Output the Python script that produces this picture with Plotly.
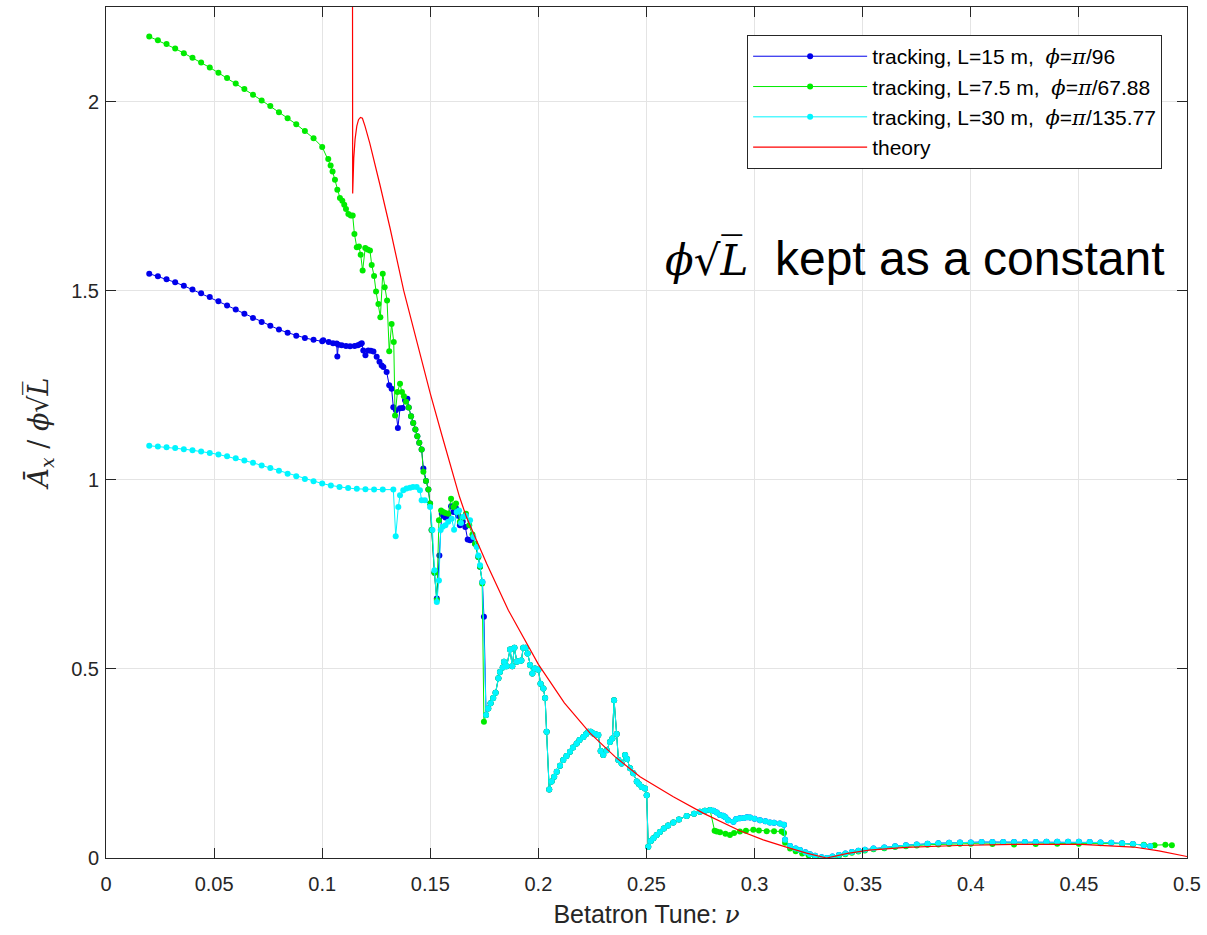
import plotly.graph_objects as go

# ---------------- data ----------------
# Blue: tracking, L=15 m
blue_x = [0.020, 0.024, 0.028, 0.032, 0.036, 0.040, 0.044, 0.048, 0.052, 0.056, 0.060, 0.064, 0.068,
          0.072, 0.076, 0.080, 0.084, 0.088, 0.092, 0.096, 0.100, 0.1005, 0.103, 0.105, 0.1067, 0.107,
          0.1075, 0.109, 0.111, 0.1129, 0.115, 0.1165, 0.1175, 0.1183, 0.119, 0.120, 0.1213, 0.1225,
          0.1237, 0.1252, 0.1265, 0.1275, 0.1283, 0.1298, 0.131, 0.1321, 0.1329, 0.1341, 0.135, 0.136,
          0.1372, 0.1383, 0.1394, 0.140, 0.1411, 0.1421, 0.1431, 0.144, 0.1449, 0.146, 0.1468, 0.148,
          0.1491, 0.1499, 0.1506, 0.1519, 0.153, 0.1542, 0.1553, 0.156, 0.157, 0.1583, 0.1596, 0.1607,
          0.1619, 0.1628, 0.1637, 0.165, 0.1662, 0.1673, 0.1684, 0.1695, 0.1707, 0.1722, 0.173, 0.1741,
          0.1748]
blue_y = [1.545, 1.538, 1.530, 1.522, 1.513, 1.503, 1.493, 1.483, 1.472, 1.461, 1.450, 1.439, 1.428,
          1.417, 1.407, 1.397, 1.389, 1.381, 1.375, 1.370, 1.366, 1.369, 1.364, 1.361, 1.360, 1.326,
          1.357, 1.356, 1.354, 1.353, 1.354, 1.356, 1.358, 1.361, 1.342, 1.329, 1.342, 1.341,
          1.339, 1.325, 1.312, 1.302, 1.298, 1.285, 1.250, 1.241, 1.192, 1.184, 1.137, 1.189,
          1.190, 1.210, 1.214, 1.191, 1.168, 1.150, 1.133, 1.115, 1.098, 1.080, 1.030, 0.997,
          0.974, 0.937, 0.867, 0.754, 0.686, 0.800, 0.910, 0.905, 0.900, 0.905, 0.930, 0.915,
          0.925, 0.905, 0.880, 0.890, 0.875, 0.842, 0.840, 0.845, 0.831, 0.796, 0.770, 0.730,
          0.638]

# Green: tracking, L=7.5 m
green_x = [0.020, 0.024, 0.028, 0.032, 0.036, 0.040, 0.044, 0.048, 0.052, 0.056, 0.060, 0.064, 0.068,
           0.072, 0.076, 0.080, 0.084, 0.088, 0.092, 0.096, 0.100, 0.1028, 0.1039, 0.1048, 0.1059,
           0.107, 0.1082, 0.1093, 0.1102, 0.111, 0.1121, 0.1132, 0.1141, 0.1149, 0.116, 0.117, 0.1178,
           0.1187, 0.1199, 0.121, 0.1221, 0.1229, 0.124, 0.1249, 0.126, 0.1269, 0.128, 0.1289, 0.130,
           0.131, 0.1321, 0.1331, 0.1337, 0.1348, 0.136, 0.1369, 0.1378, 0.1388, 0.140, 0.1411, 0.1421,
           0.1431, 0.144, 0.1449, 0.146, 0.1468, 0.148, 0.1491, 0.1499, 0.1506, 0.1519, 0.153, 0.154,
           0.155, 0.156, 0.157, 0.1583, 0.1596, 0.1607, 0.1619, 0.1628, 0.1637, 0.165, 0.1665, 0.168,
           0.1695, 0.1707, 0.1722, 0.173, 0.174, 0.1748]
green_y = [2.172, 2.162, 2.152, 2.140, 2.128, 2.116, 2.103, 2.090, 2.076, 2.062, 2.048, 2.033, 2.018,
           2.003, 1.988, 1.972, 1.956, 1.940, 1.922, 1.903, 1.880, 1.848, 1.831, 1.815, 1.793,
           1.767, 1.745, 1.738, 1.727, 1.716, 1.703, 1.699, 1.699, 1.650, 1.615, 1.617, 1.595,
           1.553, 1.613, 1.609, 1.606, 1.568, 1.539, 1.498, 1.465, 1.430, 1.545, 1.509, 1.474,
           1.340, 1.412, 1.364, 1.170, 1.232, 1.254, 1.232, 1.221, 1.206, 1.191, 1.168, 1.150,
           1.133, 1.115, 1.098, 1.080, 1.021, 0.997, 0.974, 0.937, 0.867, 0.754, 0.682, 0.893,
           0.919, 0.915, 0.912, 0.910, 0.950, 0.928, 0.937, 0.915, 0.889, 0.900, 0.910, 0.880,
           0.855, 0.831, 0.796, 0.770, 0.726, 0.360]

# Cyan: tracking, L=30 m
cyan_x = [0.020, 0.024, 0.028, 0.032, 0.036, 0.040, 0.044, 0.048, 0.052, 0.056, 0.060, 0.064, 0.068,
          0.072, 0.076, 0.080, 0.084, 0.088, 0.092, 0.096, 0.100, 0.104, 0.108, 0.112, 0.116, 0.120,
          0.124, 0.128, 0.1329, 0.134, 0.1352, 0.136, 0.1375, 0.139, 0.1406, 0.142, 0.1437, 0.1452,
          0.146, 0.1475, 0.1499, 0.151, 0.1519, 0.153, 0.154, 0.1548, 0.1557, 0.157, 0.1583, 0.1599,
          0.161, 0.1622, 0.1633, 0.1642, 0.1653, 0.1665, 0.1684, 0.1699, 0.1715, 0.1722, 0.173, 0.1741]
cyan_y = [1.090, 1.088, 1.086, 1.084, 1.081, 1.078, 1.075, 1.071, 1.067, 1.062, 1.057, 1.051, 1.045,
          1.038, 1.031, 1.024, 1.016, 1.009, 1.002, 0.996, 0.990, 0.985, 0.981, 0.978, 0.976, 0.975,
          0.974, 0.974, 0.974, 0.851, 0.928, 0.959, 0.972, 0.977, 0.979, 0.981, 0.981, 0.972,
          0.946, 0.946, 0.928, 0.867, 0.761, 0.677, 0.734, 0.867, 0.876, 0.880, 0.889, 0.897,
          0.868, 0.915, 0.919, 0.886, 0.902, 0.905, 0.893, 0.849, 0.822, 0.800, 0.774, 0.730]

# Segment shared by all three tracking runs (nu = 0.176 ... 0.28)
shared_x = [0.1758, 0.1768, 0.1779, 0.1791, 0.1802, 0.1815, 0.1822, 0.1835, 0.1841, 0.1853, 0.1869,
            0.1879, 0.1889, 0.190, 0.1912, 0.1921, 0.193, 0.1941, 0.195, 0.1961, 0.1972, 0.1984, 0.200,
            0.201, 0.2023, 0.2031, 0.2038, 0.205, 0.2061, 0.2073, 0.2085, 0.210, 0.2115, 0.213, 0.2146,
            0.216, 0.2177, 0.219, 0.2208, 0.222, 0.2231, 0.2242, 0.2254, 0.2265, 0.2277, 0.2288, 0.230,
            0.2316, 0.2331, 0.2342, 0.235, 0.2362, 0.237, 0.2385, 0.2401, 0.241, 0.2424, 0.2439, 0.2455,
            0.2466, 0.2478, 0.2493, 0.2501, 0.2508, 0.252, 0.2532, 0.2547, 0.2562, 0.258, 0.260, 0.2624,
            0.265, 0.2686, 0.272, 0.2747, 0.277, 0.2794]
shared_y = [0.378, 0.395, 0.409, 0.423, 0.437, 0.475, 0.492, 0.504, 0.519, 0.507, 0.551,
            0.507, 0.556, 0.519, 0.521, 0.522, 0.556, 0.556, 0.541, 0.510, 0.488, 0.501, 0.498,
            0.461, 0.448, 0.423, 0.334, 0.181, 0.202, 0.215, 0.228, 0.244, 0.259, 0.270, 0.281,
            0.292, 0.303, 0.312, 0.320, 0.327, 0.334, 0.334, 0.329, 0.327, 0.325, 0.283, 0.272,
            0.285, 0.307, 0.316, 0.417, 0.328, 0.259, 0.250, 0.272, 0.262, 0.237, 0.224, 0.202,
            0.195, 0.188, 0.184, 0.166, 0.030, 0.045, 0.052, 0.061, 0.069, 0.078, 0.086, 0.094,
            0.102, 0.111, 0.117, 0.122, 0.125, 0.127]

# Upper branch (blue & cyan), nu = 0.28 ... 0.314
upper_x = [0.281, 0.2825, 0.284, 0.2855, 0.2865, 0.2878, 0.2902, 0.2915, 0.2932, 0.295, 0.2965, 0.2979,
           0.300, 0.3025, 0.305, 0.3071, 0.309, 0.3117, 0.3136]
upper_y = [0.125, 0.120, 0.114, 0.112, 0.108, 0.100, 0.096, 0.103, 0.105, 0.106, 0.108, 0.107,
           0.104, 0.100, 0.097, 0.094, 0.093, 0.091, 0.088]

# Lower branch (green), nu = 0.28 ... 0.314
lower_x = [0.2815, 0.2825, 0.284, 0.2865, 0.2886, 0.2905, 0.2932, 0.296, 0.2994, 0.302, 0.3056, 0.309,
           0.3125, 0.3136]
lower_y = [0.072, 0.070, 0.068, 0.064, 0.061, 0.066, 0.070, 0.072, 0.075, 0.073, 0.071, 0.071,
           0.070, 0.066]

# Tails (nu = 0.314 ... 0.49)
tail_bc_x = [0.3141, 0.3164, 0.319, 0.321, 0.3235, 0.3256, 0.328, 0.331, 0.3335, 0.336, 0.339, 0.342,
             0.345, 0.348, 0.351, 0.355, 0.360, 0.365, 0.370, 0.375, 0.380, 0.385, 0.390, 0.395, 0.400,
             0.405, 0.410, 0.415, 0.420, 0.425, 0.430, 0.435, 0.440, 0.445, 0.450, 0.455, 0.460, 0.465,
             0.470, 0.475, 0.480, 0.483]
tail_bc_y = [0.048, 0.032, 0.025, 0.021, 0.015, 0.010, 0.006, 0.002, 0.000, 0.004, 0.008, 0.012,
             0.016, 0.019, 0.022, 0.025, 0.028, 0.031, 0.034, 0.036, 0.038, 0.039, 0.040, 0.041, 0.041,
             0.042, 0.042, 0.042, 0.042, 0.042, 0.042, 0.043, 0.043, 0.043, 0.043, 0.042, 0.041, 0.040,
             0.039, 0.037, 0.034, 0.031]
tail_g_x = [0.3141, 0.3164, 0.319, 0.322, 0.325, 0.328, 0.331, 0.3335, 0.336, 0.339, 0.342, 0.345,
            0.348, 0.351, 0.355, 0.360, 0.365, 0.370, 0.375, 0.380, 0.385, 0.390, 0.395, 0.400, 0.410,
            0.420, 0.430, 0.440, 0.450, 0.460, 0.470, 0.475, 0.480, 0.485, 0.490, 0.493]
tail_g_y = [0.040, 0.025, 0.018, 0.012, 0.007, 0.003, 0.000, -0.002, 0.002, 0.006, 0.010, 0.014,
            0.017, 0.020, 0.023, 0.026, 0.029, 0.031, 0.033, 0.035, 0.036, 0.037, 0.038, 0.038, 0.037,
            0.036, 0.037, 0.038, 0.038, 0.039, 0.038, 0.036, 0.035, 0.034, 0.035, 0.034]

# Theory curve
theory_x = [0.1140, 0.1141, 0.1146, 0.1152, 0.1160, 0.1168, 0.1177, 0.1186, 0.1198, 0.1220, 0.1267,
            0.1314, 0.1377, 0.1450, 0.1500, 0.1555, 0.1608, 0.1635, 0.1668, 0.1761, 0.1861, 0.2000,
            0.2120, 0.2239, 0.2354, 0.2470, 0.2624, 0.2764, 0.2932, 0.3040, 0.3139, 0.3240, 0.3333,
            0.3430, 0.3530, 0.3700, 0.3938, 0.4200, 0.4509, 0.4650, 0.4753, 0.4870, 0.5000]
theory_y = [2.400, 1.757, 1.850, 1.900, 1.935, 1.952, 1.958, 1.956, 1.935, 1.890, 1.780,
            1.665, 1.500, 1.335, 1.228, 1.115, 1.005, 0.955, 0.900, 0.778, 0.655, 0.512,
            0.410, 0.330, 0.268, 0.215, 0.162, 0.118, 0.072, 0.048, 0.030, 0.013, 0.000,
            0.012, 0.021, 0.028, 0.033, 0.036, 0.036, 0.033, 0.029, 0.019, 0.004]

x_ticks = [0, 0.05, 0.1, 0.15, 0.2, 0.25, 0.3, 0.35, 0.4, 0.45, 0.5]
x_tick_text = ["0", "0.05", "0.1", "0.15", "0.2", "0.25", "0.3", "0.35", "0.4", "0.45", "0.5"]
y_ticks = [0, 0.5, 1, 1.5, 2]
y_tick_text = ["0", "0.5", "1", "1.5", "2"]

# ---------------- assemble series ----------------
BLUE_X = blue_x + shared_x + upper_x + tail_bc_x
BLUE_Y = blue_y + shared_y + upper_y + tail_bc_y
GREEN_X = green_x + shared_x + lower_x + tail_g_x
GREEN_Y = green_y + shared_y + lower_y + tail_g_y
CYAN_X = cyan_x + shared_x + upper_x + tail_bc_x
CYAN_Y = cyan_y + shared_y + upper_y + tail_bc_y

SERIF = "DejaVu Serif"
SANS = "Liberation Sans, Arial, sans-serif"
PHI = "\u03d5"


def sym(s):
    return f"<span style='font-family:{SERIF}'><i>{s}</i></span>"


fig = go.Figure()
series = [
    (BLUE_X, BLUE_Y, "rgb(0,0,235)", f"tracking, L=15 m,  {sym(PHI)}={sym('π')}/96"),
    (GREEN_X, GREEN_Y, "rgb(0,235,0)", f"tracking, L=7.5 m,  {sym(PHI)}={sym('π')}/67.88"),
    (CYAN_X, CYAN_Y, "rgb(0,245,255)", f"tracking, L=30 m,  {sym(PHI)}={sym('π')}/135.77"),
]
for xs, ys, col, name in series:
    fig.add_trace(go.Scatter(x=xs, y=ys, mode="lines+markers", name=name,
                             line=dict(color=col, width=1),
                             marker=dict(color=col, size=6)))
fig.add_trace(go.Scatter(x=theory_x, y=theory_y, mode="lines", name="theory",
                         line=dict(color="rgb(255,0,0)", width=1.2)))

axis_common = dict(showline=True, linecolor="#262626", linewidth=1, mirror="ticks",
                   ticks="inside", ticklen=10, tickcolor="#262626", showgrid=True,
                   gridcolor="rgb(228,228,228)", gridwidth=1.3, zeroline=False,
                   tickfont=dict(family=SANS, size=20, color="#262626"))

fig.update_xaxes(range=[0, 0.5], tickvals=x_ticks, ticktext=x_tick_text, ticklabelstandoff=8,
                 title=dict(text=f"Betatron Tune: {sym('ν')}",
                            font=dict(family=SANS, size=25, color="#262626"), standoff=11),
                 **axis_common)
fig.update_yaxes(range=[0, 2.25], tickvals=y_ticks, ticktext=y_tick_text, ticklabelstandoff=2,
                 title=dict(text=f"<span style='font-family:{SERIF}'><i>Ā<sub>x</sub></i> / <i>{PHI}</i>√<i>L̅</i></span>",
                            font=dict(family=SERIF, size=27, color="#262626"), standoff=14),
                 **axis_common)

fig.add_annotation(x=0.515, y=0.705, xref="paper", yref="paper", xanchor="left", yanchor="middle",
                   showarrow=False,
                   text=f"<span style='font-family:{SERIF};font-size:42px'><i>{PHI}</i>√<i>L̅</i></span>  kept as a constant",
                   font=dict(family=SANS, size=48, color="black"))

fig.update_layout(
    width=1207, height=935,
    margin=dict(l=106, r=20, t=7, b=77),
    paper_bgcolor="white", plot_bgcolor="white",
    legend=dict(x=0.977, y=0.967, xanchor="right", yanchor="top",
                bgcolor="white", bordercolor="#262626", borderwidth=1,
                font=dict(family=SANS, size=21, color="black"),
                tracegroupgap=0, itemwidth=114),
    showlegend=True,
)

fig.write_html("out.html")
